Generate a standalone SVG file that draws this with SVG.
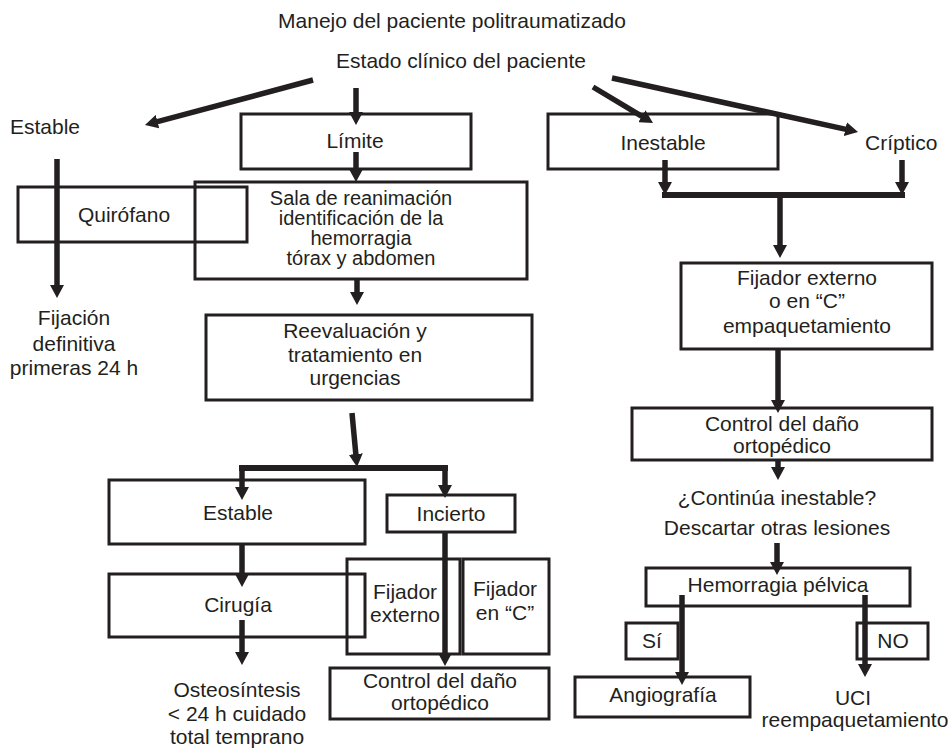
<svg xmlns="http://www.w3.org/2000/svg" width="949" height="750" viewBox="0 0 949 750">
<defs>
<marker id="ah" markerUnits="userSpaceOnUse" markerWidth="14" markerHeight="14" viewBox="0 0 14 14" refX="2" refY="7" orient="auto">
<path d="M0,0 L13,7 L0,14 z" fill="#231f20"/>
</marker>
<style>
text{font-family:"Liberation Sans",Arial,Helvetica,sans-serif;font-size:21px;fill:#231f20;text-anchor:middle}
.box{fill:none;stroke:#231f20;stroke-width:3}
.arr{fill:none;stroke:#231f20;stroke-width:5.5;marker-end:url(#ah)}
.bar{fill:none;stroke:#231f20;stroke-width:6;stroke-linecap:square}
.st{text-anchor:start}
.tight{font-size:20px}
</style>
</defs>
<rect width="949" height="750" fill="#ffffff"/>

<g id="title"><text x="452" y="28">Manejo del paciente politraumatizado</text></g>
<g id="estado"><text x="461" y="68">Estado clínico del paciente</text></g>
<g id="estable-top"><text class="st" x="10" y="134">Estable</text></g>
<g id="limite"><rect class="box" x="241" y="114" width="230" height="55"/><text x="355" y="148">Límite</text></g>
<g id="inestable"><rect class="box" x="548" y="114" width="230" height="55"/><text x="663" y="150">Inestable</text></g>
<g id="criptico"><text class="st" x="865" y="150">Críptico</text></g>
<g id="quirofano"><rect class="box" x="18" y="187" width="229" height="55"/><text x="124" y="222">Quirófano</text></g>
<g id="sala"><rect class="box" x="195" y="182" width="332" height="97"/>
<text class="tight" x="361" y="205">Sala de reanimación</text>
<text class="tight" x="361" y="225">identificación de la</text>
<text class="tight" x="361" y="245">hemorragia</text>
<text class="tight" x="361" y="265">tórax y abdomen</text></g>
<g id="fijacion"><text x="74" y="325">Fijación</text><text x="74" y="351">definitiva</text><text x="74" y="375">primeras 24 h</text></g>
<g id="reevaluacion"><rect class="box" x="206" y="315" width="326" height="85"/>
<text x="355" y="338">Reevaluación y</text><text x="355" y="362">tratamiento en</text><text x="355" y="385">urgencias</text></g>
<g id="estable-low"><rect class="box" x="109" y="480" width="256" height="64"/><text x="238" y="520">Estable</text></g>
<g id="incierto"><rect class="box" x="387" y="495" width="128" height="37"/><text x="451" y="521">Incierto</text></g>
<g id="cirugia"><rect class="box" x="109" y="574" width="256" height="63"/><text x="238" y="612">Cirugía</text></g>
<g id="fijador-externo"><rect class="box" x="347" y="559" width="113" height="95"/><text x="405" y="599">Fijador</text><text x="405" y="622">externo</text></g>
<g id="fijador-c"><rect class="box" x="463" y="559" width="86" height="95"/><text x="505" y="596">Fijador</text><text x="505" y="620">en “C”</text></g>
<g id="osteosintesis"><text x="237" y="697">Osteosíntesis</text><text x="237" y="721">&lt; 24 h cuidado</text><text x="237" y="744">total temprano</text></g>
<g id="control-mid"><rect class="box" x="330" y="668" width="219" height="51"/><text x="440" y="688">Control del daño</text><text x="440" y="710">ortopédico</text></g>
<g id="fijador-right"><rect class="box" x="681" y="263" width="251" height="86"/>
<text x="807" y="285">Fijador externo</text><text x="807" y="308">o en “C”</text><text x="807" y="333">empaquetamiento</text></g>
<g id="control-right"><rect class="box" x="632" y="408" width="300" height="52"/><text x="782" y="431">Control del daño</text><text x="782" y="453">ortopédico</text></g>
<g id="continua"><text x="777" y="505">¿Continúa inestable?</text><text x="777" y="535">Descartar otras lesiones</text></g>
<g id="hemorragia"><rect class="box" x="646" y="568" width="264" height="38"/><text x="778" y="592">Hemorragia pélvica</text></g>
<g id="si"><rect class="box" x="626" y="623" width="52" height="36"/><text x="652" y="648">Sí</text></g>
<g id="no"><rect class="box" x="857" y="623" width="71" height="36"/><text x="893" y="648">NO</text></g>
<g id="angiografia"><rect class="box" x="575" y="677" width="175" height="40"/><text x="663" y="702">Angiografía</text></g>
<g id="uci"><text x="853" y="705">UCI</text><text x="855" y="727">reempaquetamiento</text></g>

<g id="connectors">
<path class="arr" d="M313,80 L155.6,122.2"/>
<path class="arr" d="M356,88 L356,114"/>
<path class="arr" d="M593,87 L643.6,117.3"/>
<path class="arr" d="M612,78 L847.3,129.6"/>
<path class="arr" d="M356,152 L356,171"/>
<path class="arr" d="M57,159 L57,287"/>
<path class="arr" d="M357,279 L357,294"/>
<path class="arr" d="M352,413 L356,456"/>
<path class="bar" d="M242,468 L445,468"/>
<path class="arr" d="M242,468 L242,489"/>
<path class="arr" d="M445,468 L445,487"/>
<path class="arr" d="M242,544 L242,576"/>
<path class="arr" d="M242,620 L242,654"/>
<path class="arr" d="M445,532 L445,655"/>
<path class="arr" d="M665,160 L665,184"/>
<path class="arr" d="M902,160 L902,184"/>
<path class="bar" d="M665,195 L902,195"/>
<path class="arr" d="M780,195 L780,247"/>
<path class="arr" d="M778,349 L778,402"/>
<path class="arr" d="M778,460 L778,469"/>
<path class="arr" d="M777,543 L777,564"/>
<path class="arr" d="M682,595 L682,674"/>
<path class="arr" d="M865,595 L865,666"/>
</g>
</svg>
